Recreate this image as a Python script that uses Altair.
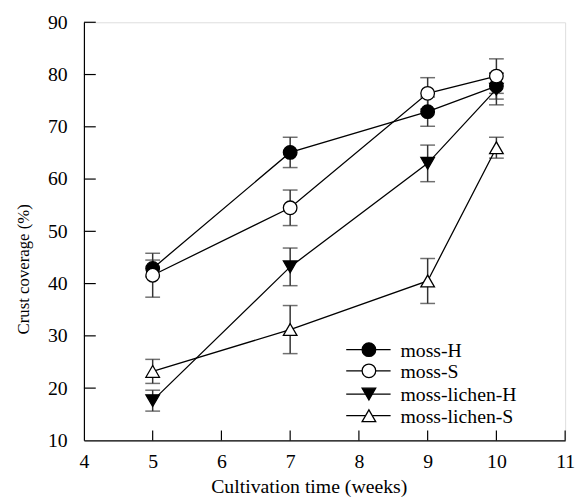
import altair as alt
import pandas as pd

# ---- data ----
weeks = [5, 7, 9, 10]
series_names = ["moss-H", "moss-S", "moss-lichen-H", "moss-lichen-S"]

moss_H = [42.9, 65.1, 72.9, 77.8]
moss_H_err = [1.6, 2.9, 2.8, 2.5]
moss_S = [41.6, 54.5, 76.4, 79.7]
moss_S_err = [4.2, 3.4, 3.0, 3.3]
lichen_H = [17.6, 43.2, 63.0, 77.2]
lichen_H_err = [2.0, 3.6, 3.5, 3.0]
lichen_S = [23.2, 31.2, 40.5, 66.0]
lichen_S_err = [2.3, 4.6, 4.3, 2.0]

x_tick_values = [5, 6, 7, 8, 9, 10, 11]
y_tick_values = [20, 30, 40, 50, 60, 70, 80, 90]

shapes = ["circle", "circle", "triangle-down", "triangle-up"]
fills = ["black", "white", "black", "white"]

FONT = "Liberation Serif"
W, H = 488, 424

rows = []
for name, vals, errs in [
    ("moss-H", moss_H, moss_H_err),
    ("moss-S", moss_S, moss_S_err),
    ("moss-lichen-H", lichen_H, lichen_H_err),
    ("moss-lichen-S", lichen_S, lichen_S_err),
]:
    for w, v, e in zip(weeks, vals, errs):
        rows.append({"series": name, "week": w, "value": v, "lo": v - e, "hi": v + e})
df = pd.DataFrame(rows)

xscale = alt.Scale(domain=[4, 11], nice=False, zero=False)
yscale = alt.Scale(domain=[10, 90], nice=False, zero=False)

x_axis = alt.Axis(
    values=[4, 5, 6, 7, 8, 9, 10, 11], format="d", ticks=False, tickSize=0, grid=False,
    domainColor="black", domainWidth=1.2, labelFont=FONT, labelFontSize=20,
    labelColor="black", labelPadding=12, labelFlush=False,
    title="Cultivation time (weeks)", titleFont=FONT, titleFontSize=20,
    titleFontWeight="normal", titleColor="black", titleX=228, titleY=53,
    titleBaseline="alphabetic", titleAlign="center",
)
y_axis = alt.Axis(
    values=[10, 20, 30, 40, 50, 60, 70, 80, 90], format="d", ticks=False, tickSize=0, grid=False,
    domainColor="black", domainWidth=1.2, labelFont=FONT, labelFontSize=20,
    labelColor="black", labelPadding=17, labelFlush=False,
    title="Crust coverage (%)", titleFont=FONT, titleFontSize=17,
    titleFontWeight="normal", titleColor="black", titleAngle=-90,
    titleX=-61, titleY=250, titleAlign="center", titleBaseline="middle",
)

base = alt.Chart(df)

err_rule = base.mark_rule(color="#333333", strokeWidth=1.5).encode(
    x=alt.X("week:Q", scale=xscale, axis=x_axis),
    y=alt.Y("lo:Q", scale=yscale, axis=y_axis),
    y2="hi:Q",
)
cap_lo = base.mark_tick(orient="horizontal", color="#333333", size=15, thickness=1.5).encode(
    x=alt.X("week:Q", scale=xscale), y=alt.Y("lo:Q", scale=yscale)
)
cap_hi = base.mark_tick(orient="horizontal", color="#333333", size=15, thickness=1.5).encode(
    x=alt.X("week:Q", scale=xscale), y=alt.Y("hi:Q", scale=yscale)
)
lines = base.mark_line(strokeWidth=1.3).encode(
    x=alt.X("week:Q", scale=xscale),
    y=alt.Y("value:Q", scale=yscale),
    color=alt.Color("series:N", scale=alt.Scale(domain=series_names, range=["black"] * 4), legend=None),
)
points = base.mark_point(filled=False, size=190, strokeWidth=1.3, stroke="black", opacity=1).encode(
    x=alt.X("week:Q", scale=xscale),
    y=alt.Y("value:Q", scale=yscale),
    shape=alt.Shape("series:N", scale=alt.Scale(domain=series_names, range=shapes), legend=None),
    fill=alt.Fill("series:N", scale=alt.Scale(domain=series_names, range=fills), legend=None),
)

# inward tick marks
xt = alt.Chart(pd.DataFrame({"t": x_tick_values})).mark_rule(color="black", strokeWidth=1.2).encode(
    x=alt.X("t:Q", scale=xscale), y=alt.value(H), y2=alt.value(H - 10)
)
yt = alt.Chart(pd.DataFrame({"t": y_tick_values})).mark_rule(color="black", strokeWidth=1.2).encode(
    y=alt.Y("t:Q", scale=yscale), x=alt.value(0), x2=alt.value(12)
)

# legend drawn inside the plot
legend_rows_y = [332, 353.5, 377, 399]
legend_layers = []
for i, name in enumerate(series_names):
    ld = pd.DataFrame({"series": [name]})
    yy = legend_rows_y[i]
    legend_layers.append(
        alt.Chart(ld).mark_rule(color="black", strokeWidth=1.3).encode(
            x=alt.value(266), x2=alt.value(311), y=alt.value(yy)
        )
    )
    legend_layers.append(
        alt.Chart(ld).mark_point(filled=False, size=190, strokeWidth=1.3, stroke="black", opacity=1,
                                 shape=shapes[i], fill=fills[i]).encode(
            x=alt.value(289), y=alt.value(yy)
        )
    )
    legend_layers.append(
        alt.Chart(ld).mark_text(align="left", baseline="middle", font=FONT, fontSize=20, color="black", dy=1).encode(
            x=alt.value(321), y=alt.value(yy), text="series:N"
        )
    )

chart = alt.layer(err_rule, cap_lo, cap_hi, lines, points, xt, yt, *legend_layers).properties(
    width=W, height=H,
    autosize=alt.AutoSizeParams(type="none"),
    padding={"left": 77, "top": 11, "right": 10, "bottom": 58},
).configure_view(stroke=None).configure(background="white")

chart.save("out.html", embed_options={"renderer": "svg", "actions": False})
